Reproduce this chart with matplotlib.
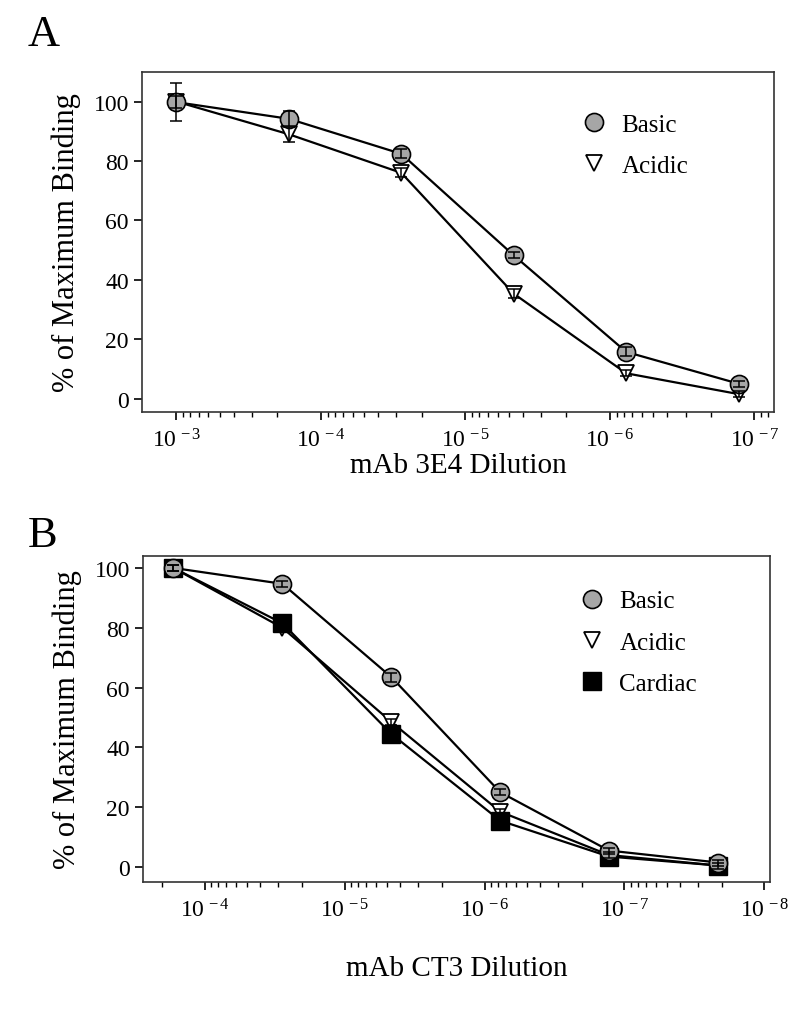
import matplotlib
matplotlib.use("Agg")
import matplotlib.pyplot as plt
from matplotlib.lines import Line2D
from matplotlib.ticker import LogLocator, FuncFormatter
import numpy as np

plt.rcParams["font.family"] = ["Liberation Serif", "DejaVu Serif"]
plt.rcParams["mathtext.fontset"] = "custom"
plt.rcParams["mathtext.rm"] = "Liberation Serif"
plt.rcParams["mathtext.it"] = "Liberation Serif:italic"

# Panel A: mAb 3E4
dil_a = [1e-3, 1.67e-4, 2.78e-5, 4.63e-6, 7.72e-7, 1.29e-7]
basic_a = [99.8, 94.2, 82.4, 48.2, 15.7, 5.0]
basic_a_err = [6.3, 2.5, 1.5, 1.0, 1.5, 1.0]
acidic_a = [100.0, 89.0, 76.0, 35.3, 8.5, 1.5]
acidic_a_err = [2.0, 2.5, 1.5, 1.5, 1.0, 1.0]

# Panel B: mAb CT3
dil_b = [1.67e-4, 2.78e-5, 4.63e-6, 7.72e-7, 1.29e-7, 2.14e-8]
basic_b = [100.0, 94.7, 63.5, 25.0, 5.5, 1.5]
basic_b_err = [1.0, 1.0, 1.5, 1.0, 1.0, 1.0]
acidic_b = [100.0, 80.0, 48.5, 18.5, 4.0, 0.5]
acidic_b_err = [1.0, 1.0, 1.0, 1.0, 1.0, 1.0]
cardiac_b = [100.0, 81.5, 44.5, 15.5, 3.5, 0.5]

yticks = [0, 20, 40, 60, 80, 100]

circ = dict(marker="o", ms=13, mfc="#a6a6a6", mec="black", mew=1.2)
tri = dict(marker="v", ms=12, mfc="white", mec="black", mew=1.3)
sq = dict(marker="s", ms=13, mfc="black", mec="black", mew=1.0)


def sci(v, pos):
    e = int(round(np.log10(v)))
    return r"$10^{\,%d}$" % e


def style(ax, xlim, ylim):
    ax.set_xscale("log")
    ax.set_xlim(*xlim)
    ax.set_ylim(*ylim)
    ax.set_yticks(yticks)
    ax.xaxis.set_major_locator(LogLocator(base=10, numticks=20))
    ax.xaxis.set_minor_locator(LogLocator(base=10, subs=np.arange(2, 10), numticks=20))
    ax.xaxis.set_major_formatter(FuncFormatter(sci))
    ax.xaxis.set_minor_formatter(FuncFormatter(lambda v, p: ""))
    ax.tick_params(axis="both", which="major", direction="out", length=6,
                   width=1.2, labelsize=17)
    ax.tick_params(axis="x", which="major", pad=6)
    ax.tick_params(axis="x", which="minor", direction="out", length=3.5, width=1.0)
    for s in ax.spines.values():
        s.set_linewidth(1.2)
        s.set_color("#333333")
    ax.set_ylabel("% of Maximum Binding", fontsize=22, labelpad=9)


def series(ax, x, y, err, mk):
    ax.plot(x, y, color="black", lw=1.6, zorder=2)
    ax.plot(x, y, ls="none", zorder=3, **mk)
    if err is not None:
        ax.errorbar(x, y, yerr=err, fmt="none", ecolor="black", elinewidth=1.1,
                    capsize=4, capthick=1.1, zorder=4)


fig = plt.figure(figsize=(8, 10.12), dpi=100)

ax1 = fig.add_axes([0.1775, 0.592, 0.79, 0.336])
series(ax1, dil_a, acidic_a, acidic_a_err, tri)
series(ax1, dil_a, basic_a, basic_a_err, circ)
style(ax1, (10 ** -2.762, 10 ** -7.135), (-4.5, 110))
ax1.set_xlabel("mAb 3E4 Dilution", fontsize=21, labelpad=0)
h1 = [Line2D([], [], ls="none", **circ), Line2D([], [], ls="none", **tri)]
ax1.legend(h1, ["Basic", "Acidic"], frameon=False, fontsize=18,
           loc="upper left", bbox_to_anchor=(0.66, 0.945), handlelength=1.0,
           handletextpad=0.6, labelspacing=0.75)
fig.text(0.035, 0.965, "A", fontsize=32, ha="left", va="center")

ax2 = fig.add_axes([0.1788, 0.1275, 0.7837, 0.3221])
series(ax2, dil_b, acidic_b, acidic_b_err, tri)
series(ax2, dil_b, cardiac_b, None, sq)
series(ax2, dil_b, basic_b, basic_b_err, circ)
style(ax2, (10 ** -3.56, 10 ** -8.04), (-5, 104))
ax2.set_xlabel("mAb CT3 Dilution", fontsize=21, labelpad=24)
h2 = [Line2D([], [], ls="none", **circ), Line2D([], [], ls="none", **tri),
      Line2D([], [], ls="none", **sq)]
ax2.legend(h2, ["Basic", "Acidic", "Cardiac"], frameon=False, fontsize=18,
           loc="upper left", bbox_to_anchor=(0.66, 0.965), handlelength=1.0,
           handletextpad=0.6, labelspacing=0.75)
fig.text(0.035, 0.47, "B", fontsize=32, ha="left", va="center")

fig.savefig("out.png", dpi=100)
